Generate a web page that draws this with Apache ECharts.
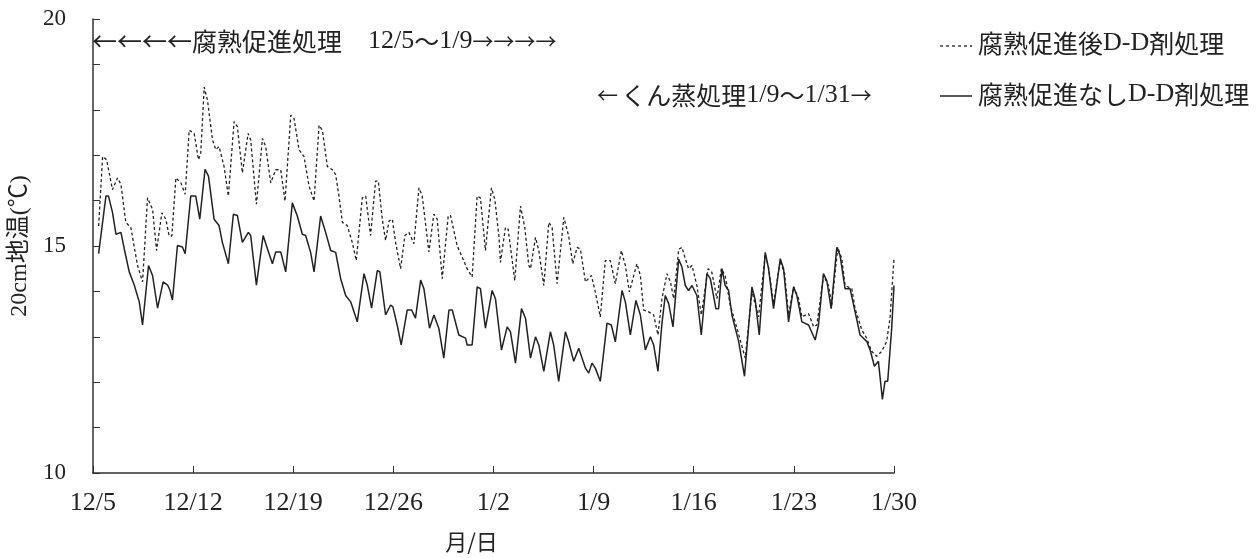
<!DOCTYPE html>
<html>
<head>
<meta charset="utf-8">
<script src="https://cdn.jsdelivr.net/npm/echarts@6/dist/echarts.min.js"></script>
<style>
html,body{margin:0;padding:0;background:#fff;}
#c{width:1259px;height:558px;}
</style>
</head>
<body>
<div id="c"></div>
<script>
// x = days since 12/5, y = soil temperature at 20 cm (°C)
const tickLabels = ['12/5','12/12','12/19','12/26','1/2','1/9','1/16','1/23','1/30'];
const yLabels = [10, 15, 20];
const seriesNames = ['腐熟促進後D-D剤処理', '腐熟促進なしD-D剤処理'];

const afterData = [
[0.40,15.44],[0.68,16.97],[0.96,16.90],[1.37,16.24],[1.72,16.50],[1.96,16.36],[2.30,15.52],[2.65,15.41],[3.12,14.57],[3.47,14.21],
[3.82,16.06],[4.17,15.81],[4.45,14.90],[4.82,15.73],[5.10,15.59],[5.33,15.22],[5.52,15.22],[5.80,16.50],[6.15,16.39],[6.45,16.14],
[6.73,17.55],[7.08,17.48],[7.38,16.90],[7.54,17.05],[7.78,18.50],[8.01,18.21],[8.36,17.34],[8.59,17.12],[8.82,17.19],[9.17,16.75],
[9.47,16.10],[9.87,17.74],[10.10,17.63],[10.45,16.61],[10.85,17.48],[11.03,17.34],[11.43,15.92],[11.85,17.37],[12.08,17.19],[12.43,16.39],
[12.78,16.68],[13.13,16.68],[13.43,15.99],[13.83,17.88],[14.06,17.81],[14.41,17.12],[14.76,16.97],[15.11,16.32],[15.46,15.99],[15.81,17.66],
[16.04,17.55],[16.39,16.75],[16.74,16.68],[16.97,16.57],[17.20,16.10],[17.44,15.52],[17.78,15.45],[18.13,15.08],[18.41,14.68],[18.83,16.06],
[19.07,16.10],[19.41,15.23],[19.76,16.43],[19.95,16.43],[20.23,15.59],[20.46,15.12],[20.70,15.55],[20.93,15.59],[21.16,15.08],[21.51,14.50],
[21.81,15.23],[22.09,15.30],[22.44,15.05],[22.79,16.28],[23.02,16.10],[23.49,14.87],[23.83,15.70],[24.07,15.59],[24.42,14.28],[24.84,15.67],
[25.00,15.67],[25.46,15.01],[25.81,14.76],[26.16,14.50],[26.51,14.32],[26.86,16.10],[27.09,16.06],[27.44,14.90],[27.86,16.28],[28.10,16.02],
[28.38,15.22],[28.49,14.64],[28.84,15.41],[29.03,15.37],[29.49,14.24],[29.89,15.88],[30.19,15.41],[30.47,14.57],[30.59,14.50],[30.94,15.19],
[31.17,14.90],[31.52,14.13],[31.87,15.52],[32.10,15.41],[32.45,14.17],[32.92,15.63],[33.26,15.22],[33.54,14.61],[33.85,14.97],[34.08,14.93],
[34.43,14.21],[34.85,14.35],[35.12,13.99],[35.47,13.44],[35.82,14.68],[36.17,14.68],[36.52,14.17],[36.94,14.90],[37.22,14.57],[37.50,13.99],
[38.03,14.61],[38.27,14.35],[38.50,13.59],[38.85,13.55],[39.20,13.48],[39.50,13.04],[39.78,13.84],[40.13,14.39],[40.37,14.21],[40.60,13.84],
[40.95,14.93],[41.18,14.97],[41.41,14.72],[41.64,14.50],[41.88,14.57],[42.22,14.13],[42.53,13.48],[43.00,14.50],[43.27,14.42],[43.62,13.84],
[43.93,14.50],[44.20,14.35],[44.55,13.70],[45.02,13.19],[45.60,12.53],[46.07,13.99],[46.53,13.44],[47.00,14.82],[47.23,14.53],[47.58,13.73],
[48.05,14.68],[48.35,14.39],[48.63,13.48],[48.98,14.10],[49.33,13.84],[49.56,13.44],[50.03,13.51],[50.38,13.22],[50.61,13.26],[51.07,14.35],
[51.42,14.13],[51.65,13.70],[52.07,14.97],[52.35,14.72],[52.58,14.13],[53.05,14.06],[53.28,13.62],[53.75,13.15],[54.09,12.97],[54.44,12.68],
[54.79,12.57],[55.14,12.68],[55.49,12.90],[55.72,13.41],[56.00,14.72]
];

const noneData = [
[0.40,14.83],[0.91,16.10],[1.09,16.10],[1.37,15.74],[1.61,15.26],[1.96,15.30],[2.19,14.94],[2.54,14.43],[2.89,14.14],[3.24,13.77],
[3.47,13.26],[3.89,14.57],[4.17,14.35],[4.52,13.63],[4.91,14.21],[5.22,14.14],[5.38,14.03],[5.56,13.81],[5.91,15.01],[6.26,14.98],
[6.45,14.83],[6.84,16.10],[7.19,16.10],[7.47,15.59],[7.84,16.69],[8.08,16.54],[8.47,15.59],[8.82,15.45],[9.05,15.08],[9.47,14.61],
[9.82,15.70],[10.10,15.67],[10.45,15.08],[10.87,15.30],[11.03,15.23],[11.43,14.14],[11.90,15.23],[12.20,14.94],[12.55,14.61],[12.78,14.87],
[13.13,14.87],[13.48,14.43],[13.94,15.95],[14.29,15.66],[14.64,15.26],[14.87,15.23],[15.22,14.86],[15.46,14.43],[15.92,15.66],[16.27,15.30],
[16.62,14.90],[16.97,14.86],[17.32,14.28],[17.67,13.91],[18.02,13.77],[18.25,13.55],[18.48,13.33],[18.95,14.39],[19.18,14.14],[19.48,13.63],
[19.88,14.46],[20.06,14.43],[20.46,13.48],[20.81,13.70],[20.97,13.66],[21.27,13.26],[21.55,12.82],[21.97,13.59],[22.28,13.59],[22.55,13.41],
[22.91,14.25],[23.14,14.06],[23.53,13.19],[23.84,13.48],[24.18,13.19],[24.53,12.53],[24.89,13.59],[25.12,13.59],[25.58,13.04],[26.05,12.97],
[26.16,12.82],[26.51,12.82],[26.86,14.10],[27.09,14.06],[27.44,13.19],[27.91,14.02],[28.14,13.84],[28.56,12.71],[28.96,13.22],[29.19,13.11],
[29.54,12.42],[29.96,13.62],[30.24,13.41],[30.59,12.53],[30.94,13.00],[31.17,12.82],[31.52,12.24],[31.98,13.11],[32.21,12.82],[32.56,12.02],
[33.03,13.11],[33.26,12.89],[33.61,12.46],[33.96,12.75],[34.43,12.31],[34.66,12.20],[34.89,12.42],[35.12,12.31],[35.47,12.02],[35.94,13.30],
[36.24,13.26],[36.52,12.89],[36.99,14.02],[37.22,13.77],[37.57,13.04],[37.96,13.80],[38.27,13.48],[38.62,12.71],[38.97,13.00],[39.20,12.82],
[39.50,12.24],[39.78,13.30],[40.01,13.91],[40.25,13.73],[40.55,13.22],[40.95,14.71],[41.18,14.53],[41.41,14.13],[41.64,14.02],[41.88,14.13],
[42.22,13.91],[42.53,13.04],[42.92,14.39],[43.16,14.28],[43.55,13.62],[43.74,13.62],[43.97,14.50],[44.20,14.13],[44.44,14.02],[44.67,13.48],
[45.14,12.90],[45.55,12.13],[46.07,14.10],[46.30,13.81],[46.58,13.04],[47.00,14.86],[47.23,14.50],[47.58,13.62],[48.05,14.72],[48.28,14.50],
[48.63,13.33],[48.98,14.10],[49.21,13.91],[49.56,13.33],[50.03,13.26],[50.49,12.93],[50.72,13.26],[51.07,14.39],[51.30,14.24],[51.61,13.62],
[52.00,14.97],[52.23,14.79],[52.58,14.06],[52.93,14.06],[53.28,13.55],[53.63,13.04],[54.09,12.90],[54.33,12.71],[54.63,12.35],[54.91,12.46],
[55.19,11.62],[55.37,12.02],[55.56,12.02],[55.84,13.19],[56.00,14.13]
];

const SERIF = '"Liberation Serif", "Noto Sans CJK JP", serif';
const CJK = '"Noto Sans CJK JP", sans-serif';
const INK = '#222';
const chart = echarts.init(document.getElementById('c'), null, {renderer: 'canvas'});

const rich = {
  a: {fontFamily: CJK, fontSize: 25, fill: INK},
  ar: {fontFamily: CJK, fontSize: 21, fill: INK},
  j: {fontFamily: CJK, fontSize: 25, fill: INK},
  n: {fontFamily: SERIF, fontSize: 26, fill: INK}
};

chart.setOption({
  animation: false,
  backgroundColor: '#fff',
  textStyle: {fontFamily: SERIF, color: INK},
  grid: {left: 92, right: 365, top: 19, bottom: 83, containLabel: false},
  xAxis: {
    type: 'value', min: 0, max: 56, interval: 7,
    name: '月/日', nameLocation: 'middle', nameGap: 58,
    nameTextStyle: {fontFamily: CJK, fontSize: 22, color: INK, padding: [0, 44, 0, 0]},
    axisLine: {lineStyle: {color: '#333', width: 1.5}},
    axisTick: {inside: true, length: 7, lineStyle: {color: '#333', width: 1}},
    axisLabel: {fontFamily: SERIF, fontSize: 26, color: INK, margin: 17,
      formatter: v => tickLabels[Math.round(v / 7)] || ''},
    splitLine: {show: false}
  },
  yAxis: {
    type: 'value', min: 10, max: 20, interval: 1,
    name: '20cm地温(℃)', nameLocation: 'middle', nameGap: 55, nameRotate: 90,
    nameTextStyle: {fontFamily: SERIF, fontSize: 24, color: INK},
    axisLine: {show: true, lineStyle: {color: '#333', width: 1.5}},
    axisTick: {show: true, inside: true, length: 7, lineStyle: {color: '#333', width: 1}},
    axisLabel: {fontFamily: SERIF, fontSize: 23, color: INK, margin: 27,
      formatter: v => yLabels.indexOf(v) >= 0 ? String(v) : ''},
    splitLine: {show: false}
  },
  graphic: [
    {type: 'text', left: 92, top: 28, style: {
      text: '{a|←←←←}{j|腐熟促進処理}{n|　12/5}{j|～}{n|1/9}{ar|→→→→}', rich: rich}},
    {type: 'text', left: 597, top: 82, style: {
      text: '{ar|←} {j|くん蒸処理}{n|1/9}{j|～}{n|1/31}{ar|→}', rich: rich}},
    // legend
    {type: 'line', shape: {x1: 940, y1: 46, x2: 972, y2: 46},
      style: {stroke: INK, lineWidth: 1.3, lineDash: [3, 3]}},
    {type: 'text', left: 978, top: 30, style: {
      text: '{j|腐熟促進後}{n|D-D}{j|剤処理}', rich: rich}},
    {type: 'line', shape: {x1: 940, y1: 96, x2: 972, y2: 96},
      style: {stroke: INK, lineWidth: 1.5}},
    {type: 'text', left: 978, top: 81, style: {
      text: '{j|腐熟促進なし}{n|D-D}{j|剤処理}', rich: rich}}
  ],
  series: [
    {name: seriesNames[0], type: 'line', data: afterData, symbol: 'none', smooth: false,
      lineStyle: {color: INK, width: 1.3, type: [3, 2.5]}},
    {name: seriesNames[1], type: 'line', data: noneData, symbol: 'none', smooth: false,
      lineStyle: {color: INK, width: 1.5, type: 'solid'}}
  ]
});
</script>
</body>
</html>
